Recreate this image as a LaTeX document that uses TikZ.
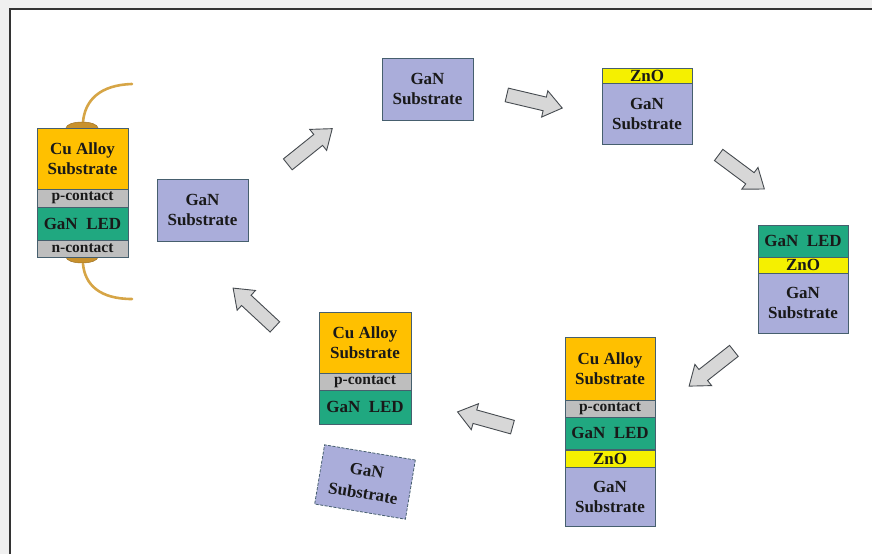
\documentclass[tikz,border=0pt]{standalone}
\usepackage{fontspec}
\setmainfont{Liberation Serif}
\usetikzlibrary{calc}
\definecolor{cu}{RGB}{255,192,0}
\definecolor{pcon}{RGB}{190,190,190}
\definecolor{led}{RGB}{32,168,128}
\definecolor{zno}{RGB}{245,240,0}
\definecolor{gan}{RGB}{170,173,218}
\definecolor{edge}{RGB}{70,95,110}
\definecolor{wire}{RGB}{214,165,70}
\definecolor{tab}{RGB}{200,145,45}
\definecolor{arrowfill}{RGB}{215,215,215}
\definecolor{arrowedge}{RGB}{70,75,80}
\tikzset{
  layer/.style={draw=edge, line width=0.8pt, inner sep=0pt, align=center,
    font=\bfseries\fontsize{17}{20}\selectfont, text=black!90},
  thinlayer/.style={layer, font=\bfseries\fontsize{15.5}{17}\selectfont},
  blockarrow/.style={draw=arrowedge, fill=arrowfill, line width=0.9pt, line join=miter},
  blk/.pic={\path[blockarrow] (-28.5,-7) -- (10.5,-7) -- (10.5,-13.5) -- (28.5,0) -- (10.5,13.5) -- (10.5,7) -- (-28.5,7) -- cycle;},
  wirestyle/.style={draw=wire, line width=2.6pt, line cap=round},
  tabstyle/.style={fill=tab, draw=tab!80!black, line width=0.5pt}
}
\begin{document}
\begin{tikzpicture}[x=1pt, y=-1pt]
\useasboundingbox (0,0) rectangle (872,554);
% frame
\fill[black!6] (0,0) rectangle (9,554);
\fill[black!6] (0,0) rectangle (872,8);
\draw[black!80, line width=2pt] (9.5,554) -- (9.5,9) -- (872,9);

% left finished device: wires and tabs
\coordinate (wt1) at (83,122);
\coordinate (wt2) at (132,84);
\coordinate (wb1) at (83,264);
\coordinate (wb2) at (132,299);
\draw[wirestyle] (wt1) .. controls (85,100) and (100,85) .. (wt2);
\draw[wirestyle] (wb1) .. controls (85,285) and (100,299) .. (wb2);
\fill[tabstyle] (82,128) ellipse [x radius=16, y radius=6];
\fill[tabstyle] (82,257) ellipse [x radius=16, y radius=6];

\node[layer, fill=cu, minimum width=91, minimum height=61] (d1cu) at (82.5,158.5) {Cu Alloy\\Substrate};
\node[thinlayer, fill=pcon, minimum width=91, minimum height=18] (d1pc) at (82.5,198) {p-contact};
\node[layer, fill=led, minimum width=91, minimum height=33] (d1led) at (82.5,223.5) {GaN\ \ LED};
\node[thinlayer, fill=pcon, minimum width=91, minimum height=17] (d1nc) at (82.5,248.5) {n-contact};

% left GaN substrate (recycled)
\node[layer, fill=gan, minimum width=91, minimum height=62] (s0) at (202.5,210) {GaN\\Substrate};

% top GaN substrate
\node[layer, fill=gan, minimum width=91, minimum height=62] (s1) at (427.5,89) {GaN\\Substrate};

% ZnO on GaN
\node[layer, fill=zno, minimum width=90, minimum height=15] (s2zno) at (647,75.5) {ZnO};
\node[layer, fill=gan, minimum width=90, minimum height=61] (s2gan) at (647,113.5) {GaN\\Substrate};

% LED on ZnO on GaN
\node[layer, fill=led, minimum width=90, minimum height=32] (s3led) at (803,241) {GaN\ \ LED};
\node[layer, fill=zno, minimum width=90, minimum height=16] (s3zno) at (803,265) {ZnO};
\node[layer, fill=gan, minimum width=90, minimum height=60] (s3gan) at (803,303) {GaN\\Substrate};

% bonded to Cu alloy
\node[layer, fill=cu, minimum width=90, minimum height=63] (s4cu) at (610,368.5) {Cu Alloy\\Substrate};
\node[thinlayer, fill=pcon, minimum width=90, minimum height=17] (s4pc) at (610,408.5) {p-contact};
\node[layer, fill=led, minimum width=90, minimum height=32] (s4led) at (610,433) {GaN\ \ LED};
\node[layer, fill=zno, minimum width=90, minimum height=17] (s4zno) at (610,458.5) {ZnO};
\node[layer, fill=gan, minimum width=90, minimum height=59] (s4gan) at (610,496.5) {GaN\\Substrate};

% lifted off
\node[layer, fill=cu, minimum width=92, minimum height=61] (s5cu) at (365,342.5) {Cu Alloy\\Substrate};
\node[thinlayer, fill=pcon, minimum width=92, minimum height=17] (s5pc) at (365,381.5) {p-contact};
\node[layer, fill=led, minimum width=92, minimum height=34] (s5led) at (365,407) {GaN\ \ LED};
\node[layer, fill=gan, dashed, dash pattern=on 3pt off 1.5pt, minimum width=92, minimum height=60, rotate=-9.5,
  font=\bfseries\fontsize{17}{23}\selectfont] (s5gan) at (365,482) {GaN\\Substrate};

% process arrows
\pic[rotate=38.8] (a1) at (310,146.5) {blk};
\pic[rotate=-13.3] (a2) at (534.5,101.5) {blk};
\pic[rotate=-36.7] (a3) at (741.5,172) {blk};
\pic[rotate=-141.8] (a4) at (711.5,368.5) {blk};
\pic[rotate=164.5] (a5) at (485,419.5) {blk};
\pic[rotate=137.1] (a6) at (254,307.5) {blk};
\end{tikzpicture}
\end{document}
